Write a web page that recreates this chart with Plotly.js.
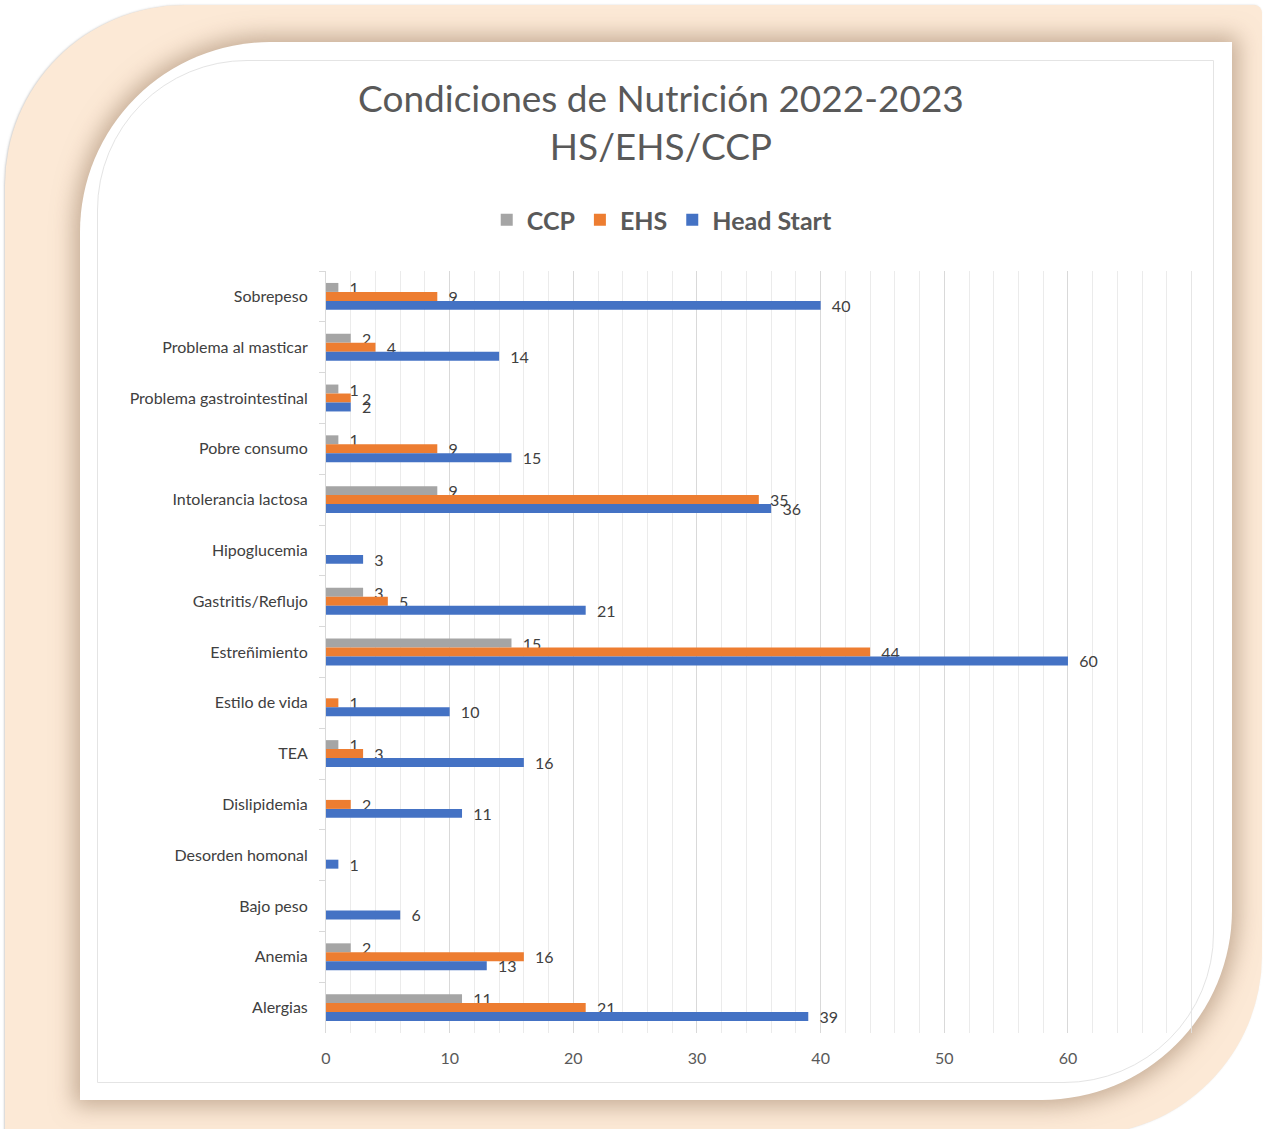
<!DOCTYPE html>
<html>
<head>
<meta charset="utf-8">
<script src="https://cdn.plot.ly/plotly-3.0.1.min.js"></script>
<style>
  html, body { margin: 0; padding: 0; background: #ffffff; }
  #stage { position: relative; width: 1265px; height: 1129px; overflow: hidden; background: #ffffff; }
  #outer { position: absolute; left: 5px; top: 5px; width: 1257px; height: 1130px;
           background: #FCE9D6; border-radius: 180px 8px 180px 0;
           box-shadow: -1px 0 2px rgba(120,120,120,0.35); }
  #inner { position: absolute; left: 80px; top: 42px; width: 1152px; height: 1058px;
           background: #ffffff; border-radius: 190px 0 190px 0;
           box-shadow: 0 0 22px 6px rgba(150,120,95,0.55); }
  #frame { position: absolute; left: 97px; top: 60px; width: 1115px; height: 1021px;
           border: 1px solid #e4e4e4; border-radius: 150px 0 150px 0; }
  #chart { position: absolute; left: 0; top: 0; width: 1265px; height: 1129px; }
</style>
</head>
<body>
<div id="stage">
  <div id="outer"></div>
  <div id="inner"></div>
  <div id="frame"></div>
  <div id="chart"></div>
</div>
<script>
// Categories, top to bottom
const categories = [
  "Sobrepeso",
  "Problema al masticar",
  "Problema gastrointestinal",
  "Pobre consumo",
  "Intolerancia lactosa",
  "Hipoglucemia",
  "Gastritis/Reflujo",
  "Estreñimiento",
  "Estilo de vida",
  "TEA",
  "Dislipidemia",
  "Desorden homonal",
  "Bajo peso",
  "Anemia",
  "Alergias"
];
const ccp       = [1, 2, 1, 1, 9, null, 3, 15, null, 1, null, null, null, 2, 11];
const ehs       = [9, 4, 2, 9, 35, null, 5, 44, 1, 3, 2, null, null, 16, 21];
const headStart = [40, 14, 2, 15, 36, 3, 21, 60, 10, 16, 11, 1, 6, 13, 39];
const xTickVals = [0, 10, 20, 30, 40, 50, 60];
const xMax = 70;

const FONT = 'Lato, "Open Sans", "DejaVu Sans", sans-serif';

function series(name, vals, color) {
  return {
    type: 'bar',
    orientation: 'h',
    name: name,
    y: categories,
    x: vals,
    marker: { color: color },
    text: vals.map(v => (v === null ? '' : '\u00a0\u00a0' + String(v))),
    textposition: 'outside',
    textfont: { family: FONT, size: 16, color: '#404040' },
    cliponaxis: false,
    constraintext: 'none',
    hoverinfo: 'skip'
  };
}

const data = [
  series('CCP', ccp, '#A5A5A5'),
  series('EHS', ehs, '#ED7D31'),
  series('Head Start', headStart, '#4472C4')
];

const layout = {
  width: 1265,
  height: 1129,
  paper_bgcolor: 'rgba(0,0,0,0)',
  plot_bgcolor: 'rgba(0,0,0,0)',
  margin: { l: 326, r: 73, t: 271, b: 96, pad: 0 },
  barmode: 'group',
  bargap: 0.47,
  bargroupgap: 0,
  font: { family: FONT, color: '#595959' },
  title: {
    text: 'Condiciones de Nutrición 2022-2023<br>HS/EHS/CCP',
    font: { family: FONT, size: 37, color: '#595959' },
    xref: 'container', x: 0.5225, xanchor: 'center',
    yref: 'container', y: 1 - 112 / 1129, yanchor: 'middle'
  },
  showlegend: true,
  legend: {
    orientation: 'h',
    xref: 'container', x: 0.5235, xanchor: 'center',
    yref: 'container', y: 1 - 220 / 1129, yanchor: 'middle',
    font: { family: FONT, size: 25, color: '#595959', weight: 'bold' },
    itemwidth: 30,
    tracegroupgap: 0,
    bgcolor: 'rgba(0,0,0,0)'
  },
  shapes: [{
    type: 'line', xref: 'x', yref: 'paper',
    x0: xMax, x1: xMax, y0: 0, y1: 1,
    line: { color: '#E3E3E3', width: 1 }, layer: 'below'
  }],
  xaxis: {
    range: [0, xMax + 0.03],
    tickvals: xTickVals,
    ticktext: xTickVals.map(String),
    showgrid: true,
    gridcolor: '#D9D9D9',
    gridwidth: 1,
    minor: { dtick: 2, tick0: 0, showgrid: true, gridcolor: '#EBEBEB', gridwidth: 1 },
    zeroline: false,
    showline: false,
    ticks: '',
    ticklabelstandoff: 14,
    tickfont: { family: FONT, size: 16, color: '#595959' },
    fixedrange: true
  },
  yaxis: {
    type: 'category',
    autorange: 'reversed',
    showgrid: false,
    zeroline: false,
    showline: true,
    linecolor: '#D9D9D9',
    linewidth: 1,
    ticks: 'outside',
    tickson: 'boundaries',
    ticklen: 6,
    tickcolor: '#D9D9D9',
    ticklabelstandoff: 14,
    tickfont: { family: FONT, size: 16, color: '#404040' },
    fixedrange: true
  }
};

Plotly.newPlot('chart', data, layout, { displayModeBar: false, staticPlot: true });
</script>
</body>
</html>
